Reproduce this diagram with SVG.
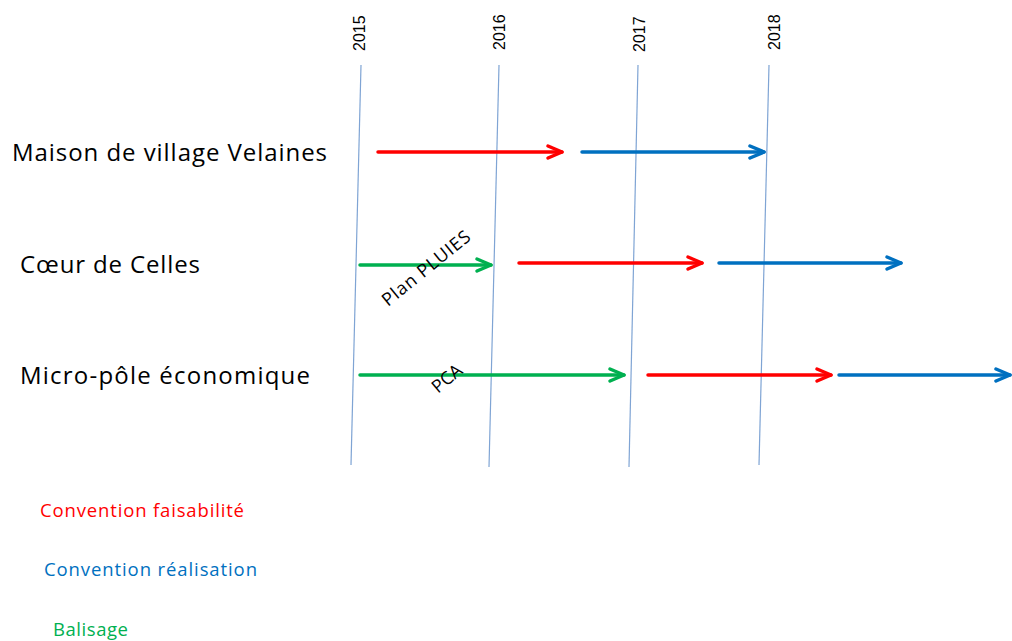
<svg xmlns="http://www.w3.org/2000/svg" width="1012" height="641" viewBox="0 0 1012 641">
<style>
.grid{stroke:#7FA4D4;stroke-width:1.2;fill:none}
.yr{font-family:"Liberation Sans",Arial,sans-serif;font-size:16px;fill:#000}
.lbl{font-family:"Open Sans","Liberation Sans",sans-serif;font-size:24px;fill:#000}
.leg{font-family:"Open Sans","Liberation Sans",sans-serif;font-size:18.5px}
.rot{font-family:"Open Sans","Liberation Sans",sans-serif;font-size:18px;fill:#000}
.a{fill:none;stroke-width:3.5;stroke-linejoin:round;stroke-linecap:round}
.r{stroke:#FF0000}.b{stroke:#0070C0}.g{stroke:#00B050}
</style>
<defs>
<marker id="hr" markerWidth="10" markerHeight="10" refX="8" refY="5" orient="auto" markerUnits="userSpaceOnUse" viewBox="0 0 10 10" overflow="visible"><path d="M-6,-1 L8,5 L-6,11" fill="none" stroke="#FF0000" stroke-width="3.5" stroke-linejoin="round" stroke-linecap="round"/></marker>
<marker id="hb" markerWidth="10" markerHeight="10" refX="8" refY="5" orient="auto" markerUnits="userSpaceOnUse" viewBox="0 0 10 10" overflow="visible"><path d="M-6,-1 L8,5 L-6,11" fill="none" stroke="#0070C0" stroke-width="3.5" stroke-linejoin="round" stroke-linecap="round"/></marker>
<marker id="hg" markerWidth="10" markerHeight="10" refX="8" refY="5" orient="auto" markerUnits="userSpaceOnUse" viewBox="0 0 10 10" overflow="visible"><path d="M-6,-1 L8,5 L-6,11" fill="none" stroke="#00B050" stroke-width="3.5" stroke-linejoin="round" stroke-linecap="round"/></marker>
</defs>
<rect width="1012" height="641" fill="#fff"/>
<g id="timeline">
<line class="grid" x1="361" y1="65" x2="351" y2="465"/>
<line class="grid" x1="499" y1="65" x2="489" y2="467"/>
<line class="grid" x1="638" y1="65" x2="629" y2="467"/>
<line class="grid" x1="769" y1="65" x2="759" y2="465"/>
<text class="yr" transform="translate(365,51) rotate(-90)">2015</text>
<text class="yr" transform="translate(505,50) rotate(-90)">2016</text>
<text class="yr" transform="translate(645,52) rotate(-90)">2017</text>
<text class="yr" transform="translate(780,50) rotate(-90)">2018</text>
</g>
<g id="maison"><text class="lbl" x="12" y="161" textLength="315">Maison de village Velaines</text></g>
<g id="coeur"><text class="lbl" x="20" y="273" textLength="180">Cœur de Celles</text></g>
<g id="micro"><text class="lbl" x="20" y="384" textLength="290">Micro-pôle économique</text></g>
<g id="connectors">
<line class="a r" x1="378" y1="152" x2="562" y2="152" marker-end="url(#hr)"/>
<line class="a b" x1="582" y1="152" x2="764" y2="152" marker-end="url(#hb)"/>
<line class="a g" x1="360" y1="265" x2="491" y2="265" marker-end="url(#hg)"/>
<line class="a r" x1="519" y1="263" x2="702" y2="263" marker-end="url(#hr)"/>
<line class="a b" x1="719" y1="263" x2="901" y2="263" marker-end="url(#hb)"/>
<line class="a g" x1="360" y1="375" x2="624" y2="375" marker-end="url(#hg)"/>
<line class="a r" x1="648" y1="375" x2="831" y2="375" marker-end="url(#hr)"/>
<line class="a b" x1="839" y1="375" x2="1010" y2="375" marker-end="url(#hb)"/>
</g>
<g id="plan"><text class="rot" transform="translate(388,307) rotate(-39)" textLength="108">Plan PLUIES</text></g>
<g id="pca"><text class="rot" transform="translate(438,394) rotate(-40)">PCA</text></g>
<g id="legend">
<text class="leg" x="40" y="517" fill="#FF0000" textLength="204">Convention faisabilité</text>
<text class="leg" x="44" y="576" fill="#0070C0" textLength="213">Convention réalisation</text>
<text class="leg" x="53" y="636" fill="#00B050" textLength="75">Balisage</text>
</g>
</svg>
